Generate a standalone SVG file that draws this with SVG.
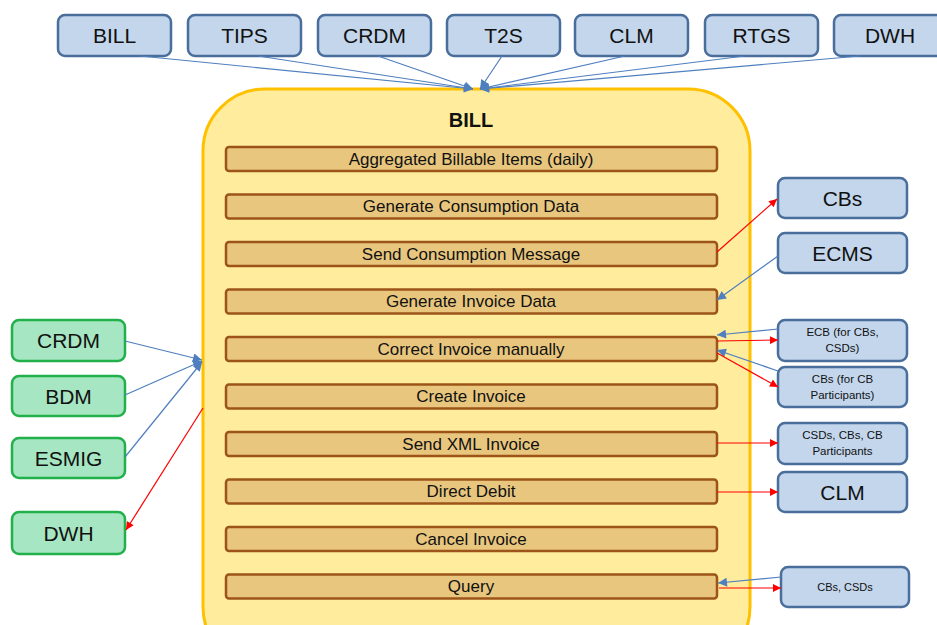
<svg xmlns="http://www.w3.org/2000/svg" width="937" height="625" viewBox="0 0 937 625">
<style>
text{font-family:"Liberation Sans",Arial,sans-serif;fill:#111;text-anchor:middle;dominant-baseline:central}
.bx{fill:#C3D6EC;stroke:#4A6E9C;stroke-width:2.5}
.gb{fill:#A6E6C2;stroke:#22B04B;stroke-width:2.5}
.bar{fill:#E8C67E;stroke:#9C5418;stroke-width:2.5}
.big{font-size:21px}
.bt{font-size:17px}
.sm{font-size:11.5px}
.bl{stroke:#4F7FBF;stroke-width:1.2;fill:none}
.rd{stroke:#FF0000;stroke-width:1.2;fill:none}
</style>
<defs>
<marker id="ab" viewBox="0 0 10 10" refX="10" refY="5" markerWidth="11" markerHeight="9" markerUnits="userSpaceOnUse" orient="auto"><path d="M0,0L10,5L0,10z" fill="#4F7FBF"/></marker>
<marker id="ar" viewBox="0 0 10 10" refX="10" refY="5" markerWidth="10" markerHeight="8" markerUnits="userSpaceOnUse" orient="auto"><path d="M0,0L10,5L0,10z" fill="#FF0000"/></marker>
</defs>
<rect width="937" height="625" fill="#fff"/>

<g id="bill-main">
<rect x="203" y="89" width="547" height="580" rx="62" fill="#FFEC9C" stroke="#FFC000" stroke-width="3"/>
<text x="471" y="120" style="font-size:20px;font-weight:bold">BILL</text>
</g>

<g id="steps">
<g id="s1"><rect class="bar" x="226" y="147" width="491" height="24" rx="3"/><text class="bt" x="471" y="159">Aggregated Billable  Items (daily)</text></g>
<g id="s2"><rect class="bar" x="226" y="194.5" width="491" height="24" rx="3"/><text class="bt" x="471" y="206.5">Generate Consumption Data</text></g>
<g id="s3"><rect class="bar" x="226" y="242" width="491" height="24" rx="3"/><text class="bt" x="471" y="254">Send Consumption Message</text></g>
<g id="s4"><rect class="bar" x="226" y="289.5" width="491" height="24" rx="3"/><text class="bt" x="471" y="301.5">Generate Invoice Data</text></g>
<g id="s5"><rect class="bar" x="226" y="337" width="491" height="24" rx="3"/><text class="bt" x="471" y="349">Correct Invoice manually</text></g>
<g id="s6"><rect class="bar" x="226" y="384.5" width="491" height="24" rx="3"/><text class="bt" x="471" y="396.5">Create Invoice</text></g>
<g id="s7"><rect class="bar" x="226" y="432" width="491" height="24" rx="3"/><text class="bt" x="471" y="444">Send XML Invoice</text></g>
<g id="s8"><rect class="bar" x="226" y="479.5" width="491" height="24" rx="3"/><text class="bt" x="471" y="491.5">Direct Debit</text></g>
<g id="s9"><rect class="bar" x="226" y="527" width="491" height="24" rx="3"/><text class="bt" x="471" y="539">Cancel Invoice</text></g>
<g id="s10"><rect class="bar" x="226" y="574.5" width="491" height="24" rx="3"/><text class="bt" x="471" y="586.5">Query</text></g>
</g>

<g id="t-bill"><rect class="bx" x="58" y="15" width="113" height="41" rx="7"/><text class="big" x="114.5" y="35.5">BILL</text></g>
<g id="t-tips"><rect class="bx" x="188" y="15" width="113" height="41" rx="7"/><text class="big" x="244.5" y="35.5">TIPS</text></g>
<g id="t-crdm"><rect class="bx" x="318" y="15" width="113" height="41" rx="7"/><text class="big" x="374.5" y="35.5">CRDM</text></g>
<g id="t-t2s"><rect class="bx" x="447" y="15" width="113" height="41" rx="7"/><text class="big" x="503.5" y="35.5">T2S</text></g>
<g id="t-clm"><rect class="bx" x="575" y="15" width="113" height="41" rx="7"/><text class="big" x="631.5" y="35.5">CLM</text></g>
<g id="t-rtgs"><rect class="bx" x="705" y="15" width="113" height="41" rx="7"/><text class="big" x="761.5" y="35.5">RTGS</text></g>
<g id="t-dwh"><rect class="bx" x="834" y="15" width="113" height="41" rx="7"/><text class="big" x="890" y="35.5">DWH</text></g>

<g id="r-cbs"><rect class="bx" x="778" y="178" width="129" height="40" rx="7"/><text class="big" x="842.5" y="198">CBs</text></g>
<g id="r-ecms"><rect class="bx" x="778" y="233" width="129" height="40" rx="7"/><text class="big" x="842.5" y="253">ECMS</text></g>
<g id="r-ecb"><rect class="bx" x="778" y="320" width="129" height="41" rx="7"/><text class="sm" x="842.5" y="332">ECB (for CBs,</text><text class="sm" x="842.5" y="348">CSDs)</text></g>
<g id="r-cbp"><rect class="bx" x="778" y="367" width="129" height="40" rx="7"/><text class="sm" x="842.5" y="379">CBs (for CB</text><text class="sm" x="842.5" y="395">Participants)</text></g>
<g id="r-csd"><rect class="bx" x="778" y="423" width="129" height="41" rx="7"/><text class="sm" x="842.5" y="435">CSDs, CBs, CB</text><text class="sm" x="842.5" y="451">Participants</text></g>
<g id="r-clm"><rect class="bx" x="778" y="472" width="129" height="40" rx="7"/><text class="big" x="842.5" y="492">CLM</text></g>
<g id="r-query"><rect class="bx" x="781" y="567" width="128" height="40" rx="7"/><text style="font-size:11px" x="845" y="587">CBs, CSDs</text></g>

<g id="l-crdm"><rect class="gb" x="12" y="320" width="113" height="41" rx="7"/><text class="big" x="68.5" y="340.5">CRDM</text></g>
<g id="l-bdm"><rect class="gb" x="12" y="376" width="113" height="40" rx="7"/><text class="big" x="68.5" y="396">BDM</text></g>
<g id="l-esmig"><rect class="gb" x="12" y="438" width="113" height="40" rx="7"/><text class="big" x="68.5" y="458">ESMIG</text></g>
<g id="l-dwh"><rect class="gb" x="12" y="512" width="113" height="42" rx="7"/><text class="big" x="68.5" y="533">DWH</text></g>

<g id="connectors">
<line class="bl" x1="140" y1="56" x2="473" y2="89" marker-end="url(#ab)"/>
<line class="bl" x1="258" y1="56" x2="473" y2="89" marker-end="url(#ab)"/>
<line class="bl" x1="378" y1="56" x2="473" y2="89" marker-end="url(#ab)"/>
<line class="bl" x1="502" y1="56" x2="480" y2="89" marker-end="url(#ab)"/>
<line class="bl" x1="625" y1="56" x2="480" y2="89" marker-end="url(#ab)"/>
<line class="bl" x1="745" y1="56" x2="480" y2="89" marker-end="url(#ab)"/>
<line class="bl" x1="860" y1="56" x2="480" y2="89" marker-end="url(#ab)"/>

<line class="bl" x1="125" y1="341" x2="202" y2="360" marker-end="url(#ab)"/>
<line class="bl" x1="125" y1="395" x2="202" y2="361" marker-end="url(#ab)"/>
<line class="bl" x1="125" y1="457" x2="202" y2="362" marker-end="url(#ab)"/>
<line class="rd" x1="203" y1="408" x2="126" y2="530" marker-end="url(#ar)"/>

<line class="rd" x1="717" y1="252" x2="777" y2="199" marker-end="url(#ar)"/>
<line class="bl" x1="778" y1="256" x2="717" y2="300" marker-end="url(#ab)"/>
<line class="bl" x1="778" y1="329" x2="717" y2="335" marker-end="url(#ab)"/>
<line class="rd" x1="717" y1="341" x2="778" y2="340" marker-end="url(#ar)"/>
<line class="bl" x1="778" y1="371" x2="717" y2="350" marker-end="url(#ab)"/>
<line class="rd" x1="717" y1="353" x2="778" y2="387" marker-end="url(#ar)"/>
<line class="rd" x1="717" y1="443" x2="778" y2="443" marker-end="url(#ar)"/>
<line class="rd" x1="717" y1="492" x2="778" y2="492" marker-end="url(#ar)"/>
<line class="bl" x1="781" y1="577" x2="718" y2="583" marker-end="url(#ab)"/>
<line class="rd" x1="719" y1="588" x2="781" y2="588" marker-end="url(#ar)"/>
</g>
</svg>
